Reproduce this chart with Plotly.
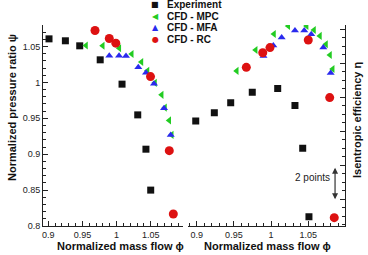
import plotly.graph_objects as go

# ---- Left panel: normalized pressure ratio ----
exp_phi_L = [0.901, 0.925, 0.946, 0.976, 1.008, 1.031, 1.043, 1.050]
exp_psi = [1.0607, 1.058, 1.051, 1.0315, 0.9976, 0.9548, 0.907, 0.850]

mpc_phi_L = [0.9552, 0.9797, 1.004, 1.0222, 1.0364, 1.0453, 1.0563, 1.0661, 1.0709, 1.0772, 1.0808]
mpc_psi = [1.0514, 1.051, 1.0475, 1.0395, 1.0284, 1.0161, 0.9994, 0.9827, 0.9649, 0.9471, 0.9269]

mfa_phi_L = [0.9893, 1.0036, 1.0138, 1.0318, 1.0431, 1.0548, 1.0695, 1.0793]
mfa_psi = [1.037, 1.037, 1.0367, 1.021, 1.0136, 0.998, 0.9641, 0.9269]

rc_phi_L = [0.9684, 0.9893, 0.9989, 1.0497, 1.0772, 1.0831]
rc_psi = [1.0723, 1.0612, 1.0547, 1.0081, 0.905, 0.8167]

# ---- Right panel: isentropic efficiency (points) ----
exp_phi_R = [0.8987, 0.9237, 0.9457, 0.9747, 1.0089, 1.0321, 1.0425, 1.0509]
exp_eta = [84.61, 85.09, 85.68, 86.29, 86.51, 85.51, 83.0, 78.98]

mpc_phi_R = [0.9538, 0.9793, 1.0039, 1.0231, 1.0478, 1.0577, 1.0657, 1.0738, 1.0792, 1.0828]
mpc_eta = [87.55, 88.78, 89.72, 90.19, 90.19, 89.96, 89.61, 89.12, 88.49, 87.66]

mfa_phi_R = [0.9898, 1.003, 1.0142, 1.0321, 1.0446, 1.054, 1.0702, 1.0801]
mfa_eta = [88.42, 89.04, 89.52, 89.93, 89.93, 89.71, 88.93, 87.43]

rc_phi_R = [0.9667, 0.9888, 0.9985, 1.05, 1.0788, 1.0849]
rc_eta = [87.76, 88.62, 88.92, 89.37, 85.98, 78.92]

series_names = ["Experiment", "CFD - MPC", "CFD - MFA", "CFD - RC"]
colors = ["#111111", "#22cc22", "#2a2aee", "#dd1111"]
symbols = ["square", "triangle-left", "triangle-up", "circle"]
sizes = [7, 7, 7, 9]
legend_glyphs = ["\u25A0", "\u25C0", "\u25B2", "\u25CF"]

left = [(exp_phi_L, exp_psi), (mpc_phi_L, mpc_psi), (mfa_phi_L, mfa_psi), (rc_phi_L, rc_psi)]
right = [(exp_phi_R, exp_eta), (mpc_phi_R, mpc_eta), (mfa_phi_R, mfa_eta), (rc_phi_R, rc_eta)]

fig = go.Figure()
for i, (xs, ys) in enumerate(left):
    fig.add_trace(go.Scatter(x=xs, y=ys, mode="markers", name=series_names[i],
                             marker=dict(symbol=symbols[i], color=colors[i], size=sizes[i], line=dict(width=0)),
                             xaxis="x", yaxis="y", showlegend=False))
for i, (xs, ys) in enumerate(right):
    fig.add_trace(go.Scatter(x=xs, y=ys, mode="markers", name=series_names[i],
                             marker=dict(symbol=symbols[i], color=colors[i], size=sizes[i], line=dict(width=0)),
                             xaxis="x2", yaxis="y2", showlegend=False))

W, H = 368, 255
def px(x):
    return x / W
def py(y):
    return 1 - y / H

tickfont = dict(family="Liberation Sans, Arial, sans-serif", size=9, color="#222")
axcommon = dict(showline=True, linecolor="#222", linewidth=1, ticks="inside", ticklen=5,
                tickcolor="#222", tickfont=tickfont, showgrid=False, zeroline=False,
                automargin=False, mirror=False)
minor = lambda d: dict(dtick=d, ticks="inside", ticklen=3, tickcolor="#222", showgrid=False)

fig.update_layout(
    template="none",
    width=W, height=H, autosize=False,
    margin=dict(l=0, r=0, t=0, b=0),
    paper_bgcolor="white", plot_bgcolor="white",
    showlegend=False,
    xaxis=dict(domain=[px(43), px(183)], range=[0.8922, 1.0973], anchor="y",
               tick0=0.9, dtick=0.05, minor=minor(0.01), **axcommon),
    yaxis=dict(domain=[py(226), py(25)], range=[0.8, 1.08], anchor="x",
               tick0=0.8, dtick=0.05, minor=minor(0.01), **axcommon),
    xaxis2=dict(domain=[px(188), px(344.5)], range=[0.8883, 1.0987], anchor="y2",
                tick0=0.9, dtick=0.05, minor=minor(0.01), **axcommon),
    yaxis2=dict(domain=[py(226), py(25)], range=[78.43, 90.25], anchor="x2", side="right",
                tick0=80, dtick=2, minor=minor(0.5), showticklabels=False, **axcommon),
)

titlefont = dict(family="Liberation Sans, Arial, sans-serif", size=11, color="#111")
legfont = dict(family="Liberation Sans, Arial, sans-serif", size=10, color="#111")
ann = []
ann.append(dict(text="<b>Normalized mass flow \u03d5</b>", x=px(120), y=py(246), xref="paper", yref="paper",
                xanchor="center", yanchor="middle", showarrow=False, font=titlefont))
ann.append(dict(text="<b>Normalized mass flow \u03d5</b>", x=px(267), y=py(246), xref="paper", yref="paper",
                xanchor="center", yanchor="middle", showarrow=False, font=titlefont))
ann.append(dict(text="<b>Normalized pressure ratio \u03c8</b>", x=px(12), y=py(108), xref="paper", yref="paper",
                xanchor="center", yanchor="middle", textangle=-90, showarrow=False, font=titlefont))
ann.append(dict(text="<b>Isentropic efficiency \u03b7</b>", x=px(357), y=py(120), xref="paper", yref="paper",
                xanchor="center", yanchor="middle", textangle=-90, showarrow=False, font=titlefont))

# legend drawn as text rows
rows_y = [4.5, 16.0, 27.5, 39.0]
for i, name in enumerate(series_names):
    ann.append(dict(text=legend_glyphs[i], x=px(155), y=py(rows_y[i]), xref="paper", yref="paper",
                    xanchor="center", yanchor="middle", showarrow=False, borderpad=0,
                    font=dict(family="DejaVu Sans", size=8, color=colors[i])))
    ann.append(dict(text="<b>" + name + "</b>", x=px(166), y=py(rows_y[i]), xref="paper", yref="paper",
                    xanchor="left", yanchor="middle", showarrow=False, borderpad=0, font=legfont))

# "2 points" scale arrow
ann.append(dict(x=1.086, y=80.0, ax=1.086, ay=81.95, xref="x2", yref="y2", axref="x2", ayref="y2",
                text="", showarrow=True, arrowside="end+start", arrowhead=2, arrowsize=1,
                arrowwidth=1.2, arrowcolor="#333"))
ann.append(dict(text="2 points", x=1.0815, y=81.3, xref="x2", yref="y2", xanchor="right", yanchor="middle",
                showarrow=False, font=dict(family="Liberation Sans, Arial, sans-serif", size=10, color="#222")))

fig.update_layout(annotations=ann)
fig.write_html("out.html")
